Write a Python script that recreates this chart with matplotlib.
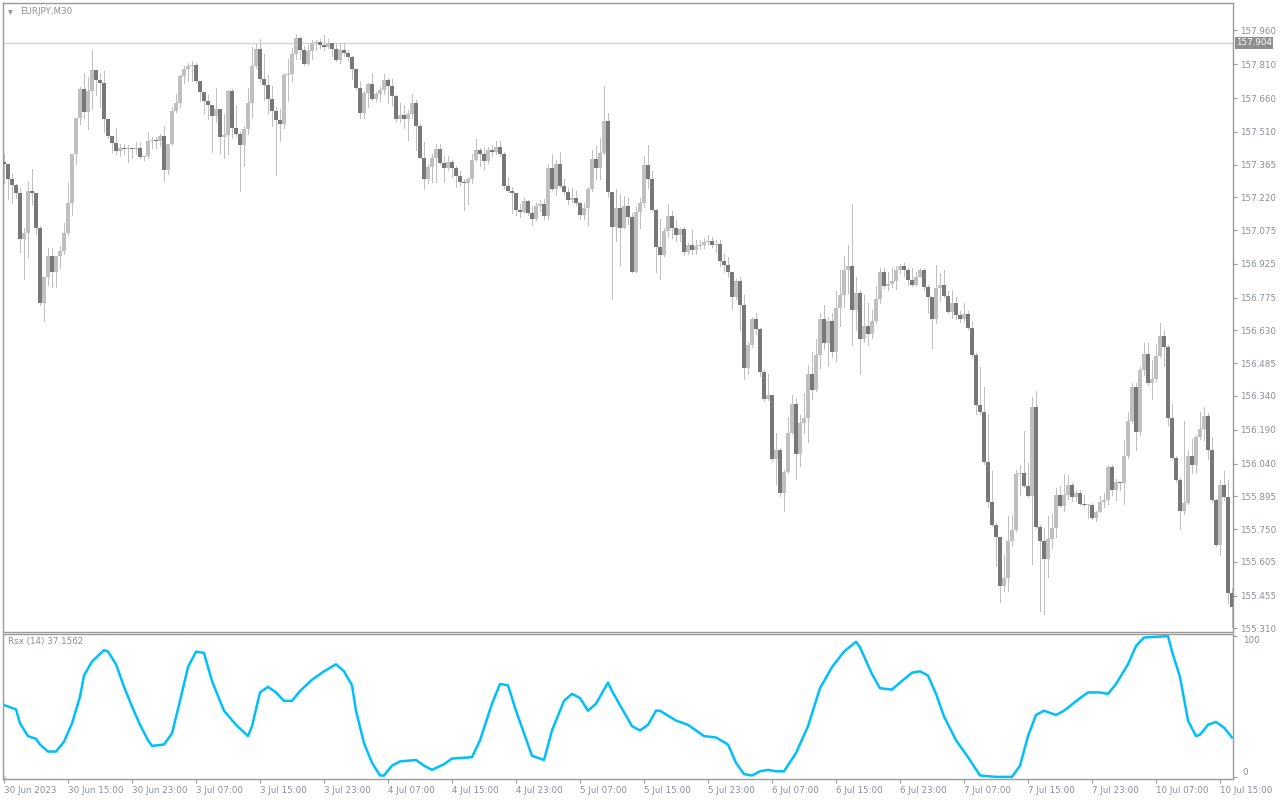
import numpy as np
import matplotlib
matplotlib.use('agg')
import matplotlib.pyplot as plt

# EURJPY M30 candles (open = previous close)
first_open = 157.375
closes = [
    157.366, 157.299, 157.275, 157.239, 157.035, 157.064, 157.248, 157.241, 157.086, 156.752,
    156.865, 156.959, 156.887, 156.959, 156.981, 157.064, 157.194, 157.411, 157.573, 157.700,
    157.599, 157.691, 157.786, 157.741, 157.727, 157.568, 157.492, 157.461, 157.425, 157.438,
    157.432, 157.438, 157.432, 157.438, 157.400, 157.402, 157.469, 157.474, 157.469, 157.492,
    157.339, 157.456, 157.604, 157.636, 157.757, 157.790, 157.804, 157.808, 157.736, 157.685,
    157.646, 157.631, 157.582, 157.613, 157.488, 157.496, 157.691, 157.528, 157.501, 157.452,
    157.523, 157.636, 157.804, 157.877, 157.745, 157.718, 157.655, 157.604, 157.562, 157.544,
    157.763, 157.767, 157.853, 157.924, 157.871, 157.812, 157.868, 157.902, 157.907, 157.895,
    157.886, 157.902, 157.877, 157.830, 157.871, 157.859, 157.841, 157.790, 157.705, 157.595,
    157.682, 157.721, 157.655, 157.676, 157.696, 157.741, 157.714, 157.669, 157.568, 157.584,
    157.568, 157.588, 157.636, 157.534, 157.396, 157.302, 157.353, 157.393, 157.434, 157.371,
    157.351, 157.375, 157.351, 157.315, 157.290, 157.284, 157.302, 157.387, 157.429, 157.414,
    157.380, 157.429, 157.423, 157.443, 157.411, 157.270, 157.248, 157.239, 157.162, 157.154,
    157.203, 157.152, 157.122, 157.181, 157.190, 157.136, 157.348, 157.257, 157.369, 157.272,
    157.243, 157.208, 157.216, 157.194, 157.143, 157.172, 157.257, 157.389, 157.351, 157.416,
    157.559, 157.245, 157.089, 157.171, 157.086, 157.181, 157.134, 156.891, 157.154, 157.194,
    157.362, 157.302, 157.163, 156.999, 156.965, 157.071, 157.136, 157.082, 157.055, 157.080,
    156.977, 157.008, 156.986, 157.004, 157.010, 157.022, 157.026, 157.008, 157.013, 156.938,
    156.920, 156.887, 156.779, 156.851, 156.743, 156.463, 156.566, 156.679, 156.638, 156.448,
    156.327, 156.342, 156.060, 156.101, 155.908, 156.002, 156.174, 156.306, 156.083, 156.219,
    156.240, 156.436, 156.367, 156.522, 156.679, 156.576, 156.670, 156.535, 156.728, 156.788,
    156.900, 156.914, 156.721, 156.797, 156.593, 156.652, 156.616, 156.670, 156.770, 156.891,
    156.829, 156.836, 156.851, 156.896, 156.914, 156.900, 156.855, 156.833, 156.869, 156.896,
    156.824, 156.779, 156.679, 156.818, 156.833, 156.782, 156.710, 156.750, 156.697, 156.679,
    156.703, 156.643, 156.522, 156.300, 156.269, 156.047, 155.872, 155.767, 155.713, 155.500,
    155.533, 155.699, 155.746, 155.993, 155.997, 155.939, 155.897, 156.291, 155.758, 155.695,
    155.619, 155.704, 155.753, 155.903, 155.854, 155.903, 155.944, 155.890, 155.908, 155.863,
    155.858, 155.858, 155.800, 155.825, 155.872, 155.879, 156.024, 155.921, 155.957, 155.953,
    156.074, 156.228, 156.378, 156.179, 156.457, 156.526, 156.399, 156.414, 156.517, 156.607,
    156.558, 156.240, 156.065, 155.966, 155.832, 155.867, 156.074, 156.035, 156.156, 156.192,
    156.251, 156.101, 155.879, 155.681, 155.944, 155.890, 155.469, 155.406,
]
highs = [
    157.411, 157.366, 157.329, 157.279, 157.263, 157.082, 157.293, 157.347, 157.241, 157.095,
    156.865, 156.995, 156.995, 156.959, 157.004, 157.107, 157.284, 157.411, 157.573, 157.709,
    157.772, 157.754, 157.871, 157.786, 157.772, 157.781, 157.568, 157.492, 157.528, 157.456,
    157.456, 157.452, 157.438, 157.465, 157.465, 157.404, 157.510, 157.488, 157.488, 157.501,
    157.534, 157.456, 157.618, 157.676, 157.763, 157.804, 157.817, 157.822, 157.817, 157.736,
    157.685, 157.673, 157.631, 157.703, 157.613, 157.591, 157.696, 157.700, 157.627, 157.510,
    157.537, 157.703, 157.884, 157.898, 157.920, 157.853, 157.763, 157.712, 157.618, 157.613,
    157.772, 157.831, 157.880, 157.945, 157.931, 157.889, 157.893, 157.916, 157.916, 157.920,
    157.938, 157.922, 157.895, 157.902, 157.902, 157.902, 157.871, 157.848, 157.790, 157.736,
    157.691, 157.727, 157.772, 157.685, 157.709, 157.768, 157.748, 157.745, 157.673, 157.636,
    157.631, 157.606, 157.676, 157.649, 157.546, 157.465, 157.366, 157.414, 157.456, 157.456,
    157.402, 157.405, 157.384, 157.360, 157.338, 157.302, 157.311, 157.411, 157.479, 157.438,
    157.438, 157.443, 157.450, 157.469, 157.469, 157.420, 157.308, 157.266, 157.239, 157.189,
    157.221, 157.207, 157.180, 157.194, 157.207, 157.212, 157.366, 157.411, 157.384, 157.420,
    157.302, 157.263, 157.263, 157.248, 157.199, 157.194, 157.266, 157.429, 157.447, 157.483,
    157.714, 157.595, 157.245, 157.257, 157.234, 157.225, 157.221, 157.149, 157.176, 157.216,
    157.402, 157.450, 157.338, 157.167, 157.122, 157.086, 157.190, 157.158, 157.118, 157.086,
    157.089, 157.017, 157.080, 157.031, 157.031, 157.041, 157.053, 157.046, 157.031, 157.031,
    156.968, 156.956, 156.887, 156.860, 156.865, 156.788, 156.580, 156.688, 156.706, 156.643,
    156.454, 156.436, 156.342, 156.174, 156.110, 156.011, 156.246, 156.342, 156.331, 156.255,
    156.354, 156.475, 156.535, 156.594, 156.706, 156.743, 156.688, 156.706, 156.806, 156.896,
    156.959, 157.008, 157.190, 156.869, 156.809, 156.788, 156.752, 156.721, 156.829, 156.905,
    156.905, 156.887, 156.905, 156.914, 156.923, 156.927, 156.909, 156.905, 156.887, 156.909,
    156.905, 156.833, 156.779, 156.920, 156.883, 156.896, 156.806, 156.809, 156.779, 156.715,
    156.752, 156.715, 156.670, 156.530, 156.468, 156.381, 156.259, 156.006, 155.776, 155.716,
    155.637, 155.807, 155.812, 156.011, 156.035, 156.183, 156.042, 156.336, 156.360, 155.767,
    155.753, 155.807, 155.818, 155.933, 155.939, 155.993, 155.988, 155.952, 155.921, 155.921,
    155.903, 155.860, 155.867, 155.832, 155.897, 155.912, 156.035, 156.035, 155.970, 155.960,
    156.143, 156.269, 156.399, 156.399, 156.468, 156.576, 156.576, 156.499, 156.571, 156.661,
    156.631, 156.566, 156.306, 156.074, 155.975, 156.228, 156.101, 156.147, 156.168, 156.269,
    156.291, 156.264, 156.156, 155.885, 155.966, 156.006, 155.966, 155.487,
]
lows = [
    157.284, 157.212, 157.194, 157.216, 156.977, 156.860, 156.956, 157.185, 157.059, 156.743,
    156.670, 156.833, 156.824, 156.824, 156.909, 156.968, 157.053, 157.140, 157.369, 157.546,
    157.573, 157.523, 157.613, 157.673, 157.618, 157.510, 157.483, 157.420, 157.414, 157.402,
    157.411, 157.378, 157.393, 157.411, 157.393, 157.387, 157.393, 157.438, 157.432, 157.447,
    157.293, 157.324, 157.452, 157.600, 157.618, 157.727, 157.736, 157.736, 157.727, 157.646,
    157.591, 157.568, 157.420, 157.555, 157.411, 157.393, 157.411, 157.483, 157.492, 157.248,
    157.360, 157.501, 157.573, 157.794, 157.730, 157.649, 157.588, 157.534, 157.320, 157.469,
    157.528, 157.646, 157.736, 157.835, 157.835, 157.808, 157.808, 157.835, 157.871, 157.880,
    157.871, 157.880, 157.844, 157.822, 157.817, 157.848, 157.830, 157.745, 157.700, 157.570,
    157.570, 157.618, 157.649, 157.646, 157.646, 157.678, 157.636, 157.631, 157.555, 157.555,
    157.528, 157.474, 157.573, 157.429, 157.393, 157.257, 157.284, 157.290, 157.290, 157.366,
    157.288, 157.342, 157.308, 157.266, 157.270, 157.163, 157.190, 157.284, 157.380, 157.360,
    157.342, 157.371, 157.405, 157.411, 157.402, 157.263, 157.245, 157.152, 157.143, 157.134,
    157.176, 157.143, 157.098, 157.118, 157.158, 157.125, 157.122, 157.252, 157.230, 157.266,
    157.236, 157.190, 157.199, 157.185, 157.125, 157.125, 157.095, 157.248, 157.302, 157.302,
    157.411, 157.221, 156.770, 157.028, 156.914, 157.086, 157.100, 156.887, 156.891, 157.086,
    157.176, 157.263, 157.158, 156.887, 156.860, 156.959, 157.046, 157.041, 157.028, 157.028,
    156.963, 156.968, 156.968, 156.968, 156.992, 156.995, 157.013, 156.999, 156.977, 156.914,
    156.887, 156.869, 156.724, 156.770, 156.634, 156.417, 156.439, 156.558, 156.616, 156.427,
    156.318, 156.324, 156.053, 155.948, 155.897, 155.832, 156.000, 156.170, 155.970, 156.029,
    156.174, 156.138, 156.327, 156.363, 156.463, 156.548, 156.472, 156.511, 156.490, 156.649,
    156.733, 156.797, 156.566, 156.631, 156.439, 156.580, 156.566, 156.598, 156.665, 156.752,
    156.818, 156.811, 156.824, 156.815, 156.883, 156.873, 156.833, 156.827, 156.833, 156.865,
    156.811, 156.706, 156.553, 156.661, 156.761, 156.779, 156.706, 156.685, 156.679, 156.667,
    156.670, 156.638, 156.511, 156.259, 156.259, 156.038, 155.849, 155.764, 155.587, 155.428,
    155.475, 155.475, 155.673, 155.740, 155.903, 155.935, 155.894, 155.596, 155.753, 155.388,
    155.374, 155.536, 155.668, 155.717, 155.849, 155.832, 155.885, 155.876, 155.876, 155.858,
    155.854, 155.800, 155.794, 155.785, 155.861, 155.849, 155.861, 155.903, 155.879, 155.921,
    155.861, 156.065, 156.219, 156.101, 156.165, 156.432, 156.390, 156.327, 156.408, 156.512,
    156.472, 156.210, 156.060, 155.957, 155.749, 155.818, 155.861, 155.998, 155.998, 156.150,
    156.143, 156.060, 155.872, 155.677, 155.637, 155.879, 155.421, 155.316,
]

# RSX(14) readings: bar index and value
rsx_bars = [0, 3, 4, 6, 8, 9, 11, 13, 15, 17, 19, 20, 22, 25, 26, 28, 30, 32, 34, 36,
            37, 40, 42, 44, 46, 48, 50, 52, 55, 58, 61, 62, 64, 66, 68, 70, 72, 74, 77, 80,
            83, 85, 87, 88, 90, 92, 94, 95, 97, 99, 103, 105, 107, 110, 112, 117, 119, 122, 124, 126,
            128, 130, 132, 135, 137, 140, 142, 144, 146, 148, 151, 152, 155, 157, 159, 161, 163, 164, 168, 171,
            175, 178, 181, 183, 185, 187, 189, 191, 193, 195, 198, 201, 204, 207, 210, 213, 214, 217, 219, 222,
            224, 227, 229, 231, 233, 235, 238, 241, 244, 248, 252, 254, 256, 258, 260, 263, 265, 269, 271, 274,
            276, 278, 281, 283, 285, 291, 292, 294, 296, 298, 299, 301, 303, 305, 307]
rsx_vals = [51, 48, 38, 29, 27, 23, 18, 18, 25, 38, 57, 72, 82, 90, 89, 80, 64, 50, 37, 26,
            22, 23, 31, 54, 78, 89, 88, 68, 47, 37, 29, 36, 60, 64, 60, 54, 54, 61, 69, 75,
            80, 75, 65, 47, 24, 10, 1, 1, 8, 11, 12, 8, 5, 9, 13, 14, 26, 52, 66, 65,
            47, 31, 15, 12, 33, 54, 59, 56, 47, 52, 67, 61, 46, 36, 33, 37, 47, 47, 40, 37,
            29, 28, 23, 10, 2, 1, 4, 5, 4, 4, 17, 36, 63, 78, 89, 96, 92, 73, 63, 62,
            67, 74, 75, 72, 59, 43, 26, 14, 1, 0, 0, 8, 29, 44, 47, 44, 47, 56, 60, 60,
            59, 66, 80, 93, 99, 100, 89, 71, 40, 29, 30, 37, 39, 35, 28]

price_ticks = [157.960, 157.810, 157.660, 157.510, 157.365, 157.220, 157.075, 156.925, 156.775, 156.630,
               156.485, 156.340, 156.190, 156.040, 155.895, 155.750, 155.605, 155.455, 155.310]
time_labels = ['30 Jun 2023', '30 Jun 15:00', '30 Jun 23:00', '3 Jul 07:00', '3 Jul 15:00',
               '3 Jul 23:00', '4 Jul 07:00', '4 Jul 15:00', '4 Jul 23:00', '5 Jul 07:00',
               '5 Jul 15:00', '5 Jul 23:00', '6 Jul 07:00', '6 Jul 15:00', '6 Jul 23:00',
               '7 Jul 07:00', '7 Jul 15:00', '7 Jul 23:00', '10 Jul 07:00', '10 Jul 15:00']
last_price = 157.904

txt = '#8a909a'
frame = '#9a9a9a'
bull = '#c0c0c0'
bear = '#787878'
fs = 6.3

W, H = 1280, 800
fig = plt.figure(figsize=(12.8, 8), dpi=100)

def box(x0, y0, x1, y1):
    return [x0 / W, 1 - y1 / H, (x1 - x0) / W, (y1 - y0) / H]

ax = fig.add_axes(box(3, 3, 1233, 632))
ax2 = fig.add_axes(box(3, 634, 1233, 779))

c = np.array(closes)
hi = np.array(highs)
lo = np.array(lows)
o = np.r_[first_open, c[:-1]]
idx = np.arange(len(c))
hi = np.maximum(hi, np.maximum(o, c))
lo = np.minimum(lo, np.minimum(o, c))
up = c >= o

# wicks 1px, bodies 3px
ax.vlines(idx, lo, hi, color=bull, lw=0.72, antialiased=False, zorder=2)
body_lo = np.minimum(o, c)
body_h = np.maximum(np.abs(c - o), 0.0045)
ax.bar(idx[up], body_h[up], bottom=body_lo[up], width=0.78, color=bull, lw=0, antialiased=False, zorder=3)
ax.bar(idx[~up], body_h[~up], bottom=body_lo[~up], width=0.78, color=bear, lw=0, antialiased=False, zorder=3)

ax.axhline(last_price, color='#d6d6d6', lw=1.0, zorder=1)

ax.set_xlim(-0.25, 307.25)
ax.set_ylim(155.294, 158.081)
ax.set_xticks([])
ax.yaxis.tick_right()
ax.set_yticks(price_ticks)
ax.set_yticklabels([f'{p:.3f}' for p in price_ticks])
ax.tick_params(axis='y', colors=frame, labelcolor=txt, labelsize=fs, length=3, width=0.8, pad=2)
for s in ax.spines.values():
    s.set_color(frame)
    s.set_linewidth(1.0)

# current price tag
ax.annotate(f'{last_price:.3f}', xy=(1.0, last_price), xycoords=('axes fraction', 'data'),
            xytext=(3, 0), textcoords='offset pixels', ha='left', va='center',
            fontsize=fs, color='white',
            bbox=dict(boxstyle='square,pad=0.15', fc='#8f8f8f', ec='none'))

ax.text(5 / 1230, 1 - 7 / 629, '\u25bc', transform=ax.transAxes, fontsize=4.5, color='#909090', va='top', ha='left')
ax.text(17 / 1230, 1 - 4 / 629, 'EURJPY,M30', transform=ax.transAxes, fontsize=fs, color=txt, va='top', ha='left')

# RSX panel
ax2.plot(rsx_bars, rsx_vals, color='#00bfff', lw=1.8, solid_joinstyle='round')
ax2.set_xlim(-0.25, 307.25)
ax2.set_ylim(-1.5, 101.5)
ax2.yaxis.tick_right()
ax2.set_yticks([0, 100])
ax2.set_yticklabels(['0', '100'])
ax2.get_yticklabels()[0].set_va('bottom')
ax2.get_yticklabels()[1].set_va('top')
ax2.set_xticks(np.arange(len(time_labels)) * 16)
ax2.set_xticklabels(time_labels)
for lbl in ax2.get_xticklabels():
    lbl.set_ha('left')
ax2.tick_params(axis='both', colors=frame, labelcolor=txt, labelsize=fs, length=3, width=0.8, pad=2)
ax2.tick_params(axis='y', pad=4)
for s in ax2.spines.values():
    s.set_color(frame)
    s.set_linewidth(1.0)
ax2.text(5 / 1230, 1 - 3 / 145, 'Rsx (14) 37.1562', transform=ax2.transAxes, fontsize=fs, color=txt, va='top', ha='left')
# little corner marker bottom-left of the indicator window
ax2.fill([0, 5 / 1230, 0], [0, 0, 5 / 145], transform=ax2.transAxes, color='#d8d8d8', lw=0, clip_on=False)

fig.savefig('out.png', dpi=100)
